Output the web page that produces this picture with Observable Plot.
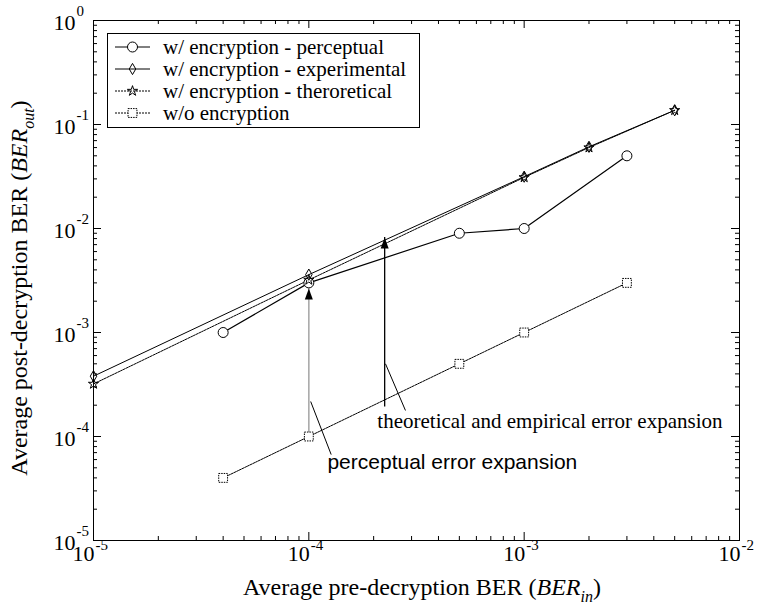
<!DOCTYPE html>
<html><head><meta charset="utf-8">
<script src="https://cdn.jsdelivr.net/npm/d3@7"></script>
<script src="https://cdn.jsdelivr.net/npm/@observablehq/plot@0.6"></script>
<style>
body{margin:0;background:#fff;}
#wrap{position:relative;width:758px;height:609px;}
</style></head><body><div id="wrap"></div>
<script>
// ---- data ----
const perceptualX = [4e-5, 1e-4, 5e-4, 1e-3, 3e-3];
const perceptualY = [1e-3, 3e-3, 9e-3, 1e-2, 5e-2];
const experimentalX = [1e-5, 1e-4, 1e-3, 2e-3, 5e-3];
const experimentalY = [3.8e-4, 3.6e-3, 3.15e-2, 6.1e-2, 0.137];
const theoreticalX = [1e-5, 1e-4, 1e-3, 2e-3, 5e-3];
const theoreticalY = [3.2e-4, 3.2e-3, 3.1e-2, 6.0e-2, 0.137];
const noEncX = [4e-5, 1e-4, 5e-4, 1e-3, 3e-3];
const noEncY = [4e-5, 1e-4, 5e-4, 1e-3, 3e-3];
const seriesNames = ["w/ encryption - perceptual", "w/ encryption - experimental", "w/ encryption - theroretical", "w/o encryption"];

const xTicks = [1e-5, 1e-4, 1e-3, 1e-2];
const xTickExp = ["-5", "-4", "-3", "-2"];
const yTicks = [1e0, 1e-1, 1e-2, 1e-3, 1e-4, 1e-5];
const yTickExp = ["0", "-1", "-2", "-3", "-4", "-5"];

// arrows: x, tail, tip
const grayArrow = [{x: 1e-4, y1: 1.1e-4, y2: 2.65e-3}];
const blackArrow = [{x: 2.25e-4, y1: 2.3e-4, y2: 8.2e-3}];
// annotation texts and leader lines
const annotText = ["theoretical and empirical error expansion", "perceptual error expansion"];
const annotX = [2.08e-4, 1.22e-4];
const annotY = [1.4e-4, 5.6e-5];
const leaders = [
  {x1: 2.27e-4, y1: 5.0e-4, x2: 2.81e-4, y2: 1.78e-4},
  {x1: 1.02e-4, y1: 2.17e-4, x2: 1.27e-4, y2: 6.7e-5}
];

// ---- layout ----
const W = 758, H = 609, mL = 93, mR = 19, mT = 20, mB = 69;
const innerW = W - mL - mR, innerH = H - mT - mB;
const serif = "Liberation Serif, Times New Roman, serif";
const sans = "Liberation Sans, Arial, sans-serif";

const zip = (xs, ys) => xs.map((x, i) => ({x, y: ys[i]}));
const perceptual = zip(perceptualX, perceptualY);
const experimental = zip(experimentalX, experimentalY);
const theoretical = zip(theoreticalX, theoreticalY);
const noEnc = zip(noEncX, noEncY);

const minorOf = (lo, hi) => {
  const out = [];
  for (let e = lo; e < hi; e++) for (let k = 2; k <= 9; k++) out.push(k * Math.pow(10, e));
  return out;
};
const xMinor = minorOf(-5, -2);
const yMinor = minorOf(-5, 0);

const headSymbol = {draw(ctx) { ctx.moveTo(0, 0); ctx.lineTo(-4, 11); ctx.lineTo(4, 11); ctx.closePath(); }};

const plot = Plot.plot({
  width: W, height: H,
  marginLeft: mL, marginRight: mR, marginTop: mT, marginBottom: mB,
  x: {type: "log", domain: [1e-5, 1e-2], axis: null},
  y: {type: "log", domain: [1e-5, 1], axis: null},
  style: {fontFamily: serif, background: "#fff", color: "#000"},
  marks: [
    // ticks (inward, all four sides)
    Plot.tickX(xMinor, {x: d => d, insetTop: innerH - 4, stroke: "#000"}),
    Plot.tickX(xMinor, {x: d => d, insetBottom: innerH - 4, stroke: "#000"}),
    Plot.tickX(xTicks, {x: d => d, insetTop: innerH - 8, stroke: "#000"}),
    Plot.tickX(xTicks, {x: d => d, insetBottom: innerH - 8, stroke: "#000"}),
    Plot.tickY(yMinor, {y: d => d, insetRight: innerW - 4, stroke: "#000"}),
    Plot.tickY(yMinor, {y: d => d, insetLeft: innerW - 4, stroke: "#000"}),
    Plot.tickY(yTicks, {y: d => d, insetRight: innerW - 8, stroke: "#000"}),
    Plot.tickY(yTicks, {y: d => d, insetLeft: innerW - 8, stroke: "#000"}),
    Plot.frame({stroke: "#000", strokeWidth: 1}),
    // tick labels
    Plot.text(xTicks, {x: d => d, frameAnchor: "bottom", text: () => "10", dy: 20, dx: 1, textAnchor: "end", fontSize: 22, fontFamily: serif}),
    Plot.text(xTicks, {x: d => d, frameAnchor: "bottom", text: (d, i) => xTickExp[i], dy: 9, dx: 2, textAnchor: "start", fontSize: 15, fontFamily: serif}),
    Plot.text(yTicks, {y: d => d, frameAnchor: "left", text: () => "10", dx: -18, dy: 2, textAnchor: "end", fontSize: 22, fontFamily: serif}),
    Plot.text(yTicks, {y: d => d, frameAnchor: "left", text: (d, i) => yTickExp[i], dx: -17, dy: -9, textAnchor: "start", fontSize: 15, fontFamily: serif}),
    // series lines
    Plot.line(noEnc, {x: "x", y: "y", stroke: "#000", strokeWidth: 1, strokeDasharray: "2,1"}),
    Plot.line(theoretical, {x: "x", y: "y", stroke: "#000", strokeWidth: 1, strokeDasharray: "2,1"}),
    Plot.line(experimental, {x: "x", y: "y", stroke: "#000", strokeWidth: 1}),
    Plot.line(perceptual, {x: "x", y: "y", stroke: "#000", strokeWidth: 1.2}),
    // arrows
    Plot.ruleX(grayArrow, {x: "x", y1: "y1", y2: "y2", stroke: "#aaa", strokeWidth: 1.6, insetTop: 8}),
    Plot.ruleX(blackArrow, {x: "x", y1: "y1", y2: "y2", stroke: "#000", strokeWidth: 1.3, insetTop: 8}),
    Plot.dot(grayArrow, {x: "x", y: "y2", symbol: headSymbol, fill: "#000", stroke: "none"}),
    Plot.dot(blackArrow, {x: "x", y: "y2", symbol: headSymbol, fill: "#000", stroke: "none"}),
    // markers
    Plot.dot(noEnc, {x: "x", y: "y", symbol: "square", r: 5, fill: "#fff", stroke: "#000", strokeWidth: 1, strokeDasharray: "1.5,1"}),
    Plot.dot(perceptual, {x: "x", y: "y", symbol: "circle", r: 5, fill: "#fff", stroke: "#000", strokeWidth: 1}),
    Plot.dot(experimental, {x: "x", y: "y", symbol: "diamond", r: 3.4, fill: "none", stroke: "#000", strokeWidth: 1}),
    Plot.dot(theoretical, {x: "x", y: "y", symbol: "star", r: 3.2, fill: "none", stroke: "#000", strokeWidth: 1}),
    // annotations
    Plot.link(leaders, {x1: "x1", y1: "y1", x2: "x2", y2: "y2", stroke: "#000", strokeWidth: 1}),
    Plot.text([0], {x: () => annotX[0], y: () => annotY[0], text: () => annotText[0], textAnchor: "start", fontSize: 21, fontFamily: serif}),
    Plot.text([1], {x: () => annotX[1], y: () => annotY[1], text: () => annotText[1], textAnchor: "start", fontSize: 21, fontFamily: sans})
  ]
});

const svg = d3.select(plot);
// axis labels with italic / subscript parts
const xl = svg.append("text").attr("x", 422).attr("y", 595).attr("text-anchor", "middle")
  .style("font-family", serif).style("font-size", "24px").attr("fill", "#000");
xl.append("tspan").text("Average pre-decryption BER (");
xl.append("tspan").text("BER").style("font-style", "italic");
xl.append("tspan").text("in").style("font-style", "italic").style("font-size", "16px").attr("dy", 7);
xl.append("tspan").text(")").attr("dy", -7);

const yl = svg.append("text").attr("transform", "translate(27,288) rotate(-90)").attr("text-anchor", "middle")
  .style("font-family", serif).style("font-size", "24px").attr("fill", "#000");
yl.append("tspan").text("Average post-decryption BER (");
yl.append("tspan").text("BER").style("font-style", "italic");
yl.append("tspan").text("out").style("font-style", "italic").style("font-size", "16px").attr("dy", 7);
yl.append("tspan").text(")").attr("dy", -7);

// legend
const lg = svg.append("g");
lg.append("rect").attr("x", 107.5).attr("y", 33.5).attr("width", 312).attr("height", 94)
  .attr("fill", "#fff").attr("stroke", "#000");
const legSym = [d3.symbolCircle, d3.symbolDiamond, d3.symbolStar, d3.symbolSquare];
const legSize = [Math.PI * 5 * 5, Math.PI * 3.4 * 3.4, Math.PI * 3.2 * 3.2, Math.PI * 5 * 5];
const legDash = [null, null, "2,1", "2,1"];
const legFill = ["#fff", "none", "none", "#fff"];
seriesNames.forEach((name, i) => {
  const y = 47 + i * 22;
  lg.append("line").attr("x1", 115).attr("x2", 150).attr("y1", y).attr("y2", y)
    .attr("stroke", "#000").attr("stroke-dasharray", legDash[i]);
  lg.append("path").attr("d", d3.symbol(legSym[i], legSize[i])()).attr("transform", `translate(132.5,${y})`)
    .attr("fill", legFill[i]).attr("stroke", "#000").attr("stroke-dasharray", i === 3 ? "1.5,1" : null);
  lg.append("text").attr("x", 163).attr("y", y + 7).attr("text-anchor", "start").text(name)
    .style("font-family", serif).style("font-size", "21px").attr("fill", "#000");
});

document.getElementById("wrap").appendChild(plot);
</script>
</body></html>
